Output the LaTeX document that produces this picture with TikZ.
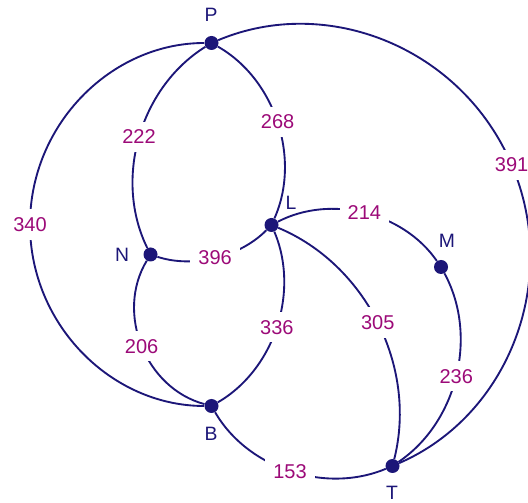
\documentclass[tikz,border=0pt]{standalone}
\usepackage{fontspec}
\setmainfont{Liberation Sans}
\definecolor{navy}{HTML}{1C1678}
\definecolor{plum}{HTML}{9C0A78}
\begin{document}
\begin{tikzpicture}[x=0.75pt,y=0.75pt,
  dot/.style={circle,fill=navy,inner sep=0pt,minimum size=10.5pt},
  edge/.style={draw=navy,line width=1.4pt},
  wlbl/.style={fill=white,text=plum,font=\fontsize{15}{15}\selectfont,inner sep=6pt},
  vlbl/.style={text=navy,font=\fontsize{14.5}{15}\selectfont,inner sep=0pt}]
\useasboundingbox (0,0) rectangle (528,503);
\fill[white] (0,0) rectangle (528,503);
% vertices
\node[dot] (P) at (211.5,460) {};
\node[dot] (L) at (271.5,278) {};
\node[dot] (N) at (150.5,248.5) {};
\node[dot] (M) at (441,236) {};
\node[dot] (B) at (211.5,97) {};
\node[dot] (T) at (392.5,37) {};
% vertex names
\node[vlbl] (Pn) at (211,488) {P};
\node[vlbl] (Ln) at (291,300) {L};
\node[vlbl] (Nn) at (122,248) {N};
\node[vlbl] (Mn) at (447,262) {M};
\node[vlbl] (Bn) at (211,69) {B};
\node[vlbl] (Tn) at (392,10) {T};
% midpoints of the two large arcs
\coordinate (mPB) at (30,278.5);
\coordinate (mPT) at (511.6,338.4);
% edges
\path[edge] (P) .. controls (139.8,415.3) and (113.4,323.7) .. node[wlbl]{222} (N);
\path[edge] (P) .. controls (274.9,424.0) and (301.2,344.8) .. node[wlbl]{268} (L);
\path[edge] (P) .. controls (111.3,460) and (30,378.7) .. (mPB)
  .. controls (30,178.3) and (111.3,97) .. (B);
\node[wlbl] (l340) at (mPB) {340};
\path[edge] (P) .. controls (328.1,509.0) and (461.9,454.7) .. (mPT)
  .. controls (561.3,222.1) and (508.5,87.4) .. (T);
\node[wlbl] (l391) at (mPT) {391};
\path[edge] (N) .. controls (192.7,234.5) and (239.8,245.8) .. node[wlbl]{396} (L);
\path[edge] (N) .. controls (115.1,189.9) and (145.5,114.7) .. node[wlbl]{206} (B);
\path[edge] (L) .. controls (299.9,211.0) and (274.3,133.4) .. node[wlbl]{336} (B);
\path[edge] (L) .. controls (330.5,308.6) and (403.0,291.1) .. node[wlbl]{214} (M);
\path[edge] (L) .. controls (365.7,238.6) and (417.5,136.4) .. node[wlbl]{305} (T);
\path[edge] (M) .. controls (478.5,167.0) and (457.2,80.8) .. node[wlbl]{236} (T);
\path[edge] (B) .. controls (247.7,34.5) and (325.2,8.8) .. node[wlbl]{153} (T);
\end{tikzpicture}
\end{document}
